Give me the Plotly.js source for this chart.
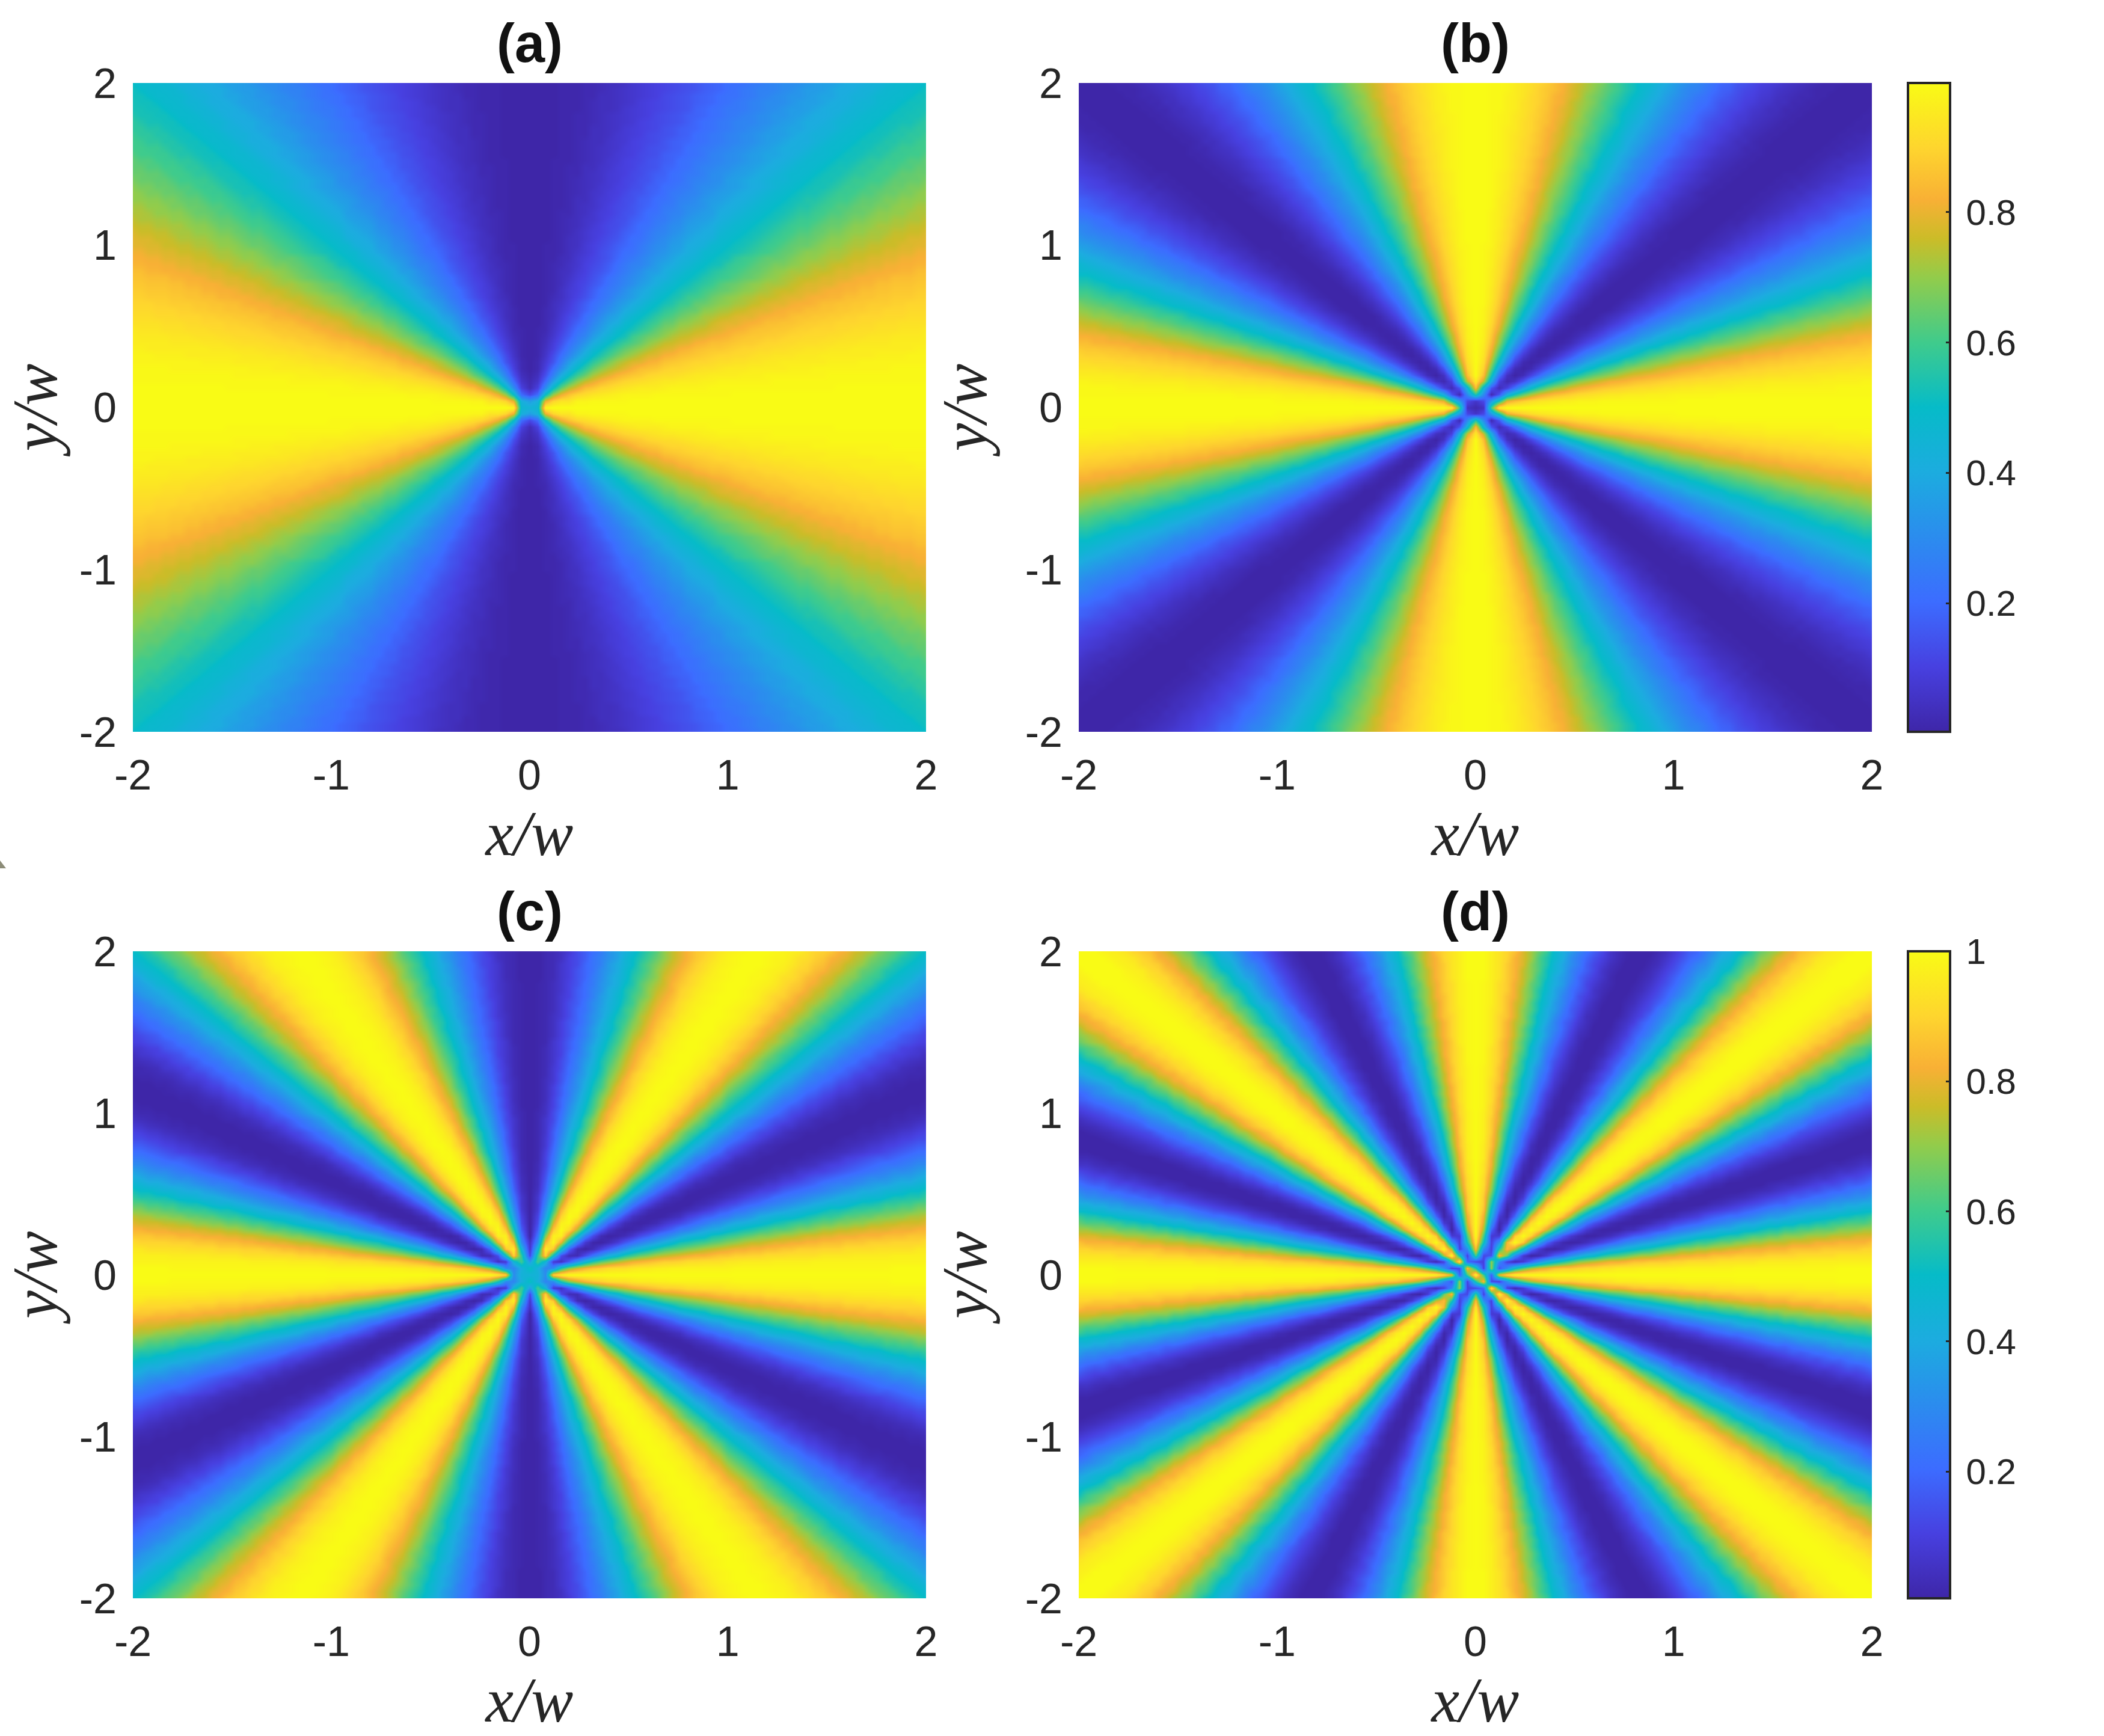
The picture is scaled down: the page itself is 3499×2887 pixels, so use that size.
<!DOCTYPE html>
<html>
<head>
<meta charset="utf-8">
<script src="https://cdn.plot.ly/plotly-3.0.1.min.js"></script>
<style>html,body{margin:0;padding:0;background:#fff}</style>
</head>
<body>
<div id="chart" style="width:3499px;height:2887px"></div>
<script>
// Intensity vs ray angle from 0 to 90 deg.
// A has one value per degree, B, C and D one per half degree because their rays are narrower.
// The other three quadrants look mirrored, so the lookup below folds the angle.
const profileA = [1.00,1.00,1.00,1.00,1.00,.99,.99,.99,.98,.98,.97,.96,.96,.95,.94,.93,.92,.91,.90,.89,.88,.87,.86,.85,.83,.82,.81,.79,.78,.76,.75,.73,.72,.70,.69,.67,.65,.64,.62,.60,.59,.57,.55,.53,.52,.50,.48,.47,.45,.43,.41,.40,.38,.36,.35,.33,.31,.30,.28,.27,.25,.24,.22,.21,.19,.18,.17,.15,.14,.13,.12,.11,.10,.09,.08,.07,.06,.05,.04,.04,.03,.02,.02,.01,.01,.01,.00,.00,.00,.00,.00];
const profileB = [1.00,1.00,1.00,1.00,1.00,.99,.99,.99,.98,.98,.97,.96,.96,.95,.94,.93,.92,.91,.90,.89,.88,.87,.86,.85,.83,.82,.81,.79,.78,.76,.75,.73,.72,.70,.69,.67,.65,.64,.62,.60,.59,.57,.55,.53,.52,.50,.48,.47,.45,.43,.41,.40,.38,.36,.35,.33,.31,.30,.28,.27,.25,.24,.22,.21,.19,.18,.17,.15,.14,.13,.12,.11,.10,.09,.08,.07,.06,.05,.04,.04,.03,.02,.02,.01,.01,.01,.00,.00,.00,.00,.00,
  .00,.00,.00,.00,.01,.01,.01,.02,.02,.03,.04,.04,.05,.06,.07,.08,.09,.10,.11,.12,.13,.14,.15,.17,.18,.19,.21,.22,.24,.25,.27,.28,.30,.31,.33,.35,.36,.38,.40,.41,.43,.45,.47,.48,.50,.52,.53,.55,.57,.59,.60,.62,.64,.65,.67,.69,.70,.72,.73,.75,.76,.78,.79,.81,.82,.83,.85,.86,.87,.88,.89,.90,.91,.92,.93,.94,.95,.96,.96,.97,.98,.98,.99,.99,.99,1.00,1.00,1.00,1.00,1.00];
const profileC = [1.00,1.00,1.00,.99,.99,.98,.98,.97,.96,.95,.93,.92,.90,.89,.87,.85,.83,.81,.79,.77,.75,.73,.70,.68,.65,.63,.60,.58,.55,.53,.50,.47,.45,.42,.40,.37,.35,.32,.30,.27,.25,.23,.21,.19,.17,.15,.13,.11,.10,.08,.07,.05,.04,.03,.02,.02,.01,.01,.00,.00,.00,
  .00,.00,.01,.01,.02,.02,.03,.04,.05,.07,.08,.10,.11,.13,.15,.17,.19,.21,.23,.25,.27,.30,.32,.35,.37,.40,.42,.45,.47,.50,.53,.55,.58,.60,.63,.65,.68,.70,.73,.75,.77,.79,.81,.83,.85,.87,.89,.90,.92,.93,.95,.96,.97,.98,.98,.99,.99,1.00,1.00,1.00,
  1.00,1.00,.99,.99,.98,.98,.97,.96,.95,.93,.92,.90,.89,.87,.85,.83,.81,.79,.77,.75,.73,.70,.68,.65,.63,.60,.58,.55,.53,.50,.47,.45,.42,.40,.37,.35,.32,.30,.27,.25,.23,.21,.19,.17,.15,.13,.11,.10,.08,.07,.05,.04,.03,.02,.02,.01,.01,.00,.00,.00];
const profileD = [1.00,1.00,1.00,.99,.98,.97,.96,.94,.92,.90,.88,.86,.83,.81,.78,.75,.72,.69,.65,.62,.59,.55,.52,.48,.45,.41,.38,.35,.31,.28,.25,.22,.19,.17,.14,.12,.10,.08,.06,.04,.03,.02,.01,.00,.00,.00,.00,.00,.01,.02,.03,.04,.06,.08,.10,.12,.14,.17,.19,.22,.25,.28,.31,.35,.38,.41,.45,.48,.52,.55,.59,.62,.65,.69,.72,.75,.78,.81,.83,.86,.88,.90,.92,.94,.96,.97,.98,.99,1.00,1.00,1.00,
  1.00,1.00,.99,.98,.97,.96,.94,.92,.90,.88,.86,.83,.81,.78,.75,.72,.69,.65,.62,.59,.55,.52,.48,.45,.41,.38,.35,.31,.28,.25,.22,.19,.17,.14,.12,.10,.08,.06,.04,.03,.02,.01,.00,.00,.00,.00,.00,.01,.02,.03,.04,.06,.08,.10,.12,.14,.17,.19,.22,.25,.28,.31,.35,.38,.41,.45,.48,.52,.55,.59,.62,.65,.69,.72,.75,.78,.81,.83,.86,.88,.90,.92,.94,.96,.97,.98,.99,1.00,1.00,1.00];

// Central cells, y = +0.2 (top) to -0.2, x = -0.2 to +0.2, step 0.04
const coreA = [
  [.50,.40,.27,.14,.04,.01,.04,.14,.27,.40,.50],
  [.60,.50,.36,.20,.06,.02,.06,.20,.36,.50,.60],
  [.73,.64,.50,.30,.10,.03,.10,.30,.50,.64,.73],
  [.86,.80,.70,.50,.20,.12,.20,.50,.70,.80,.86],
  [.94,.94,.90,.80,.42,.36,.42,.80,.90,.94,.94],
  [1.00,1.00,1.00,.98,.46,.44,.46,.98,1.00,1.00,1.00],
  [.94,.94,.90,.80,.42,.36,.42,.80,.90,.94,.94],
  [.86,.80,.70,.50,.20,.12,.20,.50,.70,.80,.86],
  [.73,.64,.50,.30,.10,.03,.10,.30,.50,.64,.73],
  [.60,.50,.36,.20,.06,.02,.06,.20,.36,.50,.60],
  [.50,.40,.27,.14,.04,.01,.04,.14,.27,.40,.50]
];
const coreB = [
  [.00,.05,.22,.53,.85,1.00,.85,.53,.22,.05,.00],
  [.05,.02,.10,.40,.75,.95,.75,.40,.10,.02,.05],
  [.22,.10,.03,.15,.45,.85,.45,.15,.03,.10,.22],
  [.53,.40,.15,.02,.30,.55,.30,.02,.15,.40,.53],
  [.85,.80,.55,.35,.12,.06,.12,.35,.55,.80,.85],
  [1.00,1.00,.96,.60,.05,.02,.05,.60,.96,1.00,1.00],
  [.85,.80,.55,.35,.12,.06,.12,.35,.55,.80,.85],
  [.53,.40,.15,.02,.30,.55,.30,.02,.15,.40,.53],
  [.22,.10,.03,.15,.45,.85,.45,.15,.03,.10,.22],
  [.05,.02,.10,.40,.75,.95,.75,.40,.10,.02,.05],
  [.00,.05,.22,.53,.85,1.00,.85,.53,.22,.05,.00]
];
const coreC = [
  [.50,.80,.99,.83,.30,.05,.30,.83,.99,.80,.50],
  [.19,.50,.87,.97,.45,.07,.45,.97,.87,.50,.19],
  [.03,.13,.50,.90,.58,.12,.58,.90,.50,.13,.03],
  [.17,.05,.08,.45,.60,.35,.60,.45,.08,.05,.17],
  [.69,.55,.30,.28,.42,.52,.42,.28,.30,.55,.69],
  [1.00,.96,.90,.30,.44,.44,.44,.30,.90,.96,1.00],
  [.69,.55,.30,.28,.42,.52,.42,.28,.30,.55,.69],
  [.17,.05,.08,.45,.60,.35,.60,.45,.08,.05,.17],
  [.03,.13,.50,.90,.58,.12,.58,.90,.50,.13,.03],
  [.19,.50,.87,.97,.45,.07,.45,.97,.87,.50,.19],
  [.50,.80,.99,.83,.30,.05,.30,.83,.99,.80,.50]
];
const coreD = [
  [1.00,.83,.31,.10,.52,.95,.52,.10,.31,.83,1.00],
  [.82,1.00,.72,.10,.31,.85,.31,.10,.55,.85,.75],
  [.31,.72,1.00,.52,.10,.60,.12,.15,.85,.65,.30],
  [.02,.10,.52,.98,.20,.12,.10,.70,.30,.10,.03],
  [.50,.31,.10,.12,.85,.55,.10,.70,.15,.30,.50],
  [.98,.92,.80,.18,.60,1.00,.60,.18,.80,.92,.98],
  [.50,.30,.15,.70,.10,.55,.85,.12,.10,.31,.50],
  [.03,.10,.30,.70,.10,.12,.20,.98,.52,.10,.02],
  [.30,.65,.85,.15,.12,.60,.10,.52,1.00,.72,.31],
  [.75,.85,.55,.10,.31,.85,.31,.10,.72,1.00,.82],
  [1.00,.83,.31,.10,.52,.95,.52,.10,.31,.83,1.00]
];

const panelTitles = ["(a)", "(b)", "(c)", "(d)"];
const tickValues = [-2, -1, 0, 1, 2];
const barTicksB = [0.2, 0.4, 0.6, 0.8];
const barTicksD = [0.2, 0.4, 0.6, 0.8, 1];

// colours
const colorStops = [
  [0.00, "#3e26a8"], [0.10, "#4740e0"], [0.20, "#3c6cff"], [0.30, "#2b8cee"],
  [0.40, "#1cacdf"], [0.50, "#06bbc8"], [0.60, "#3fcb8c"], [0.70, "#92cc4b"],
  [0.76, "#cbbc28"], [0.82, "#f8b035"], [0.90, "#fed52e"], [1.00, "#f9fb15"]
];

// Grid of the original figure: cells of 0.04 from -2 to 2
const gridX = [];
for (let i = 0; i <= 100; i++) gridX.push(Math.round((-2 + 0.04 * i) * 100) / 100);

// Build z by looking up the read values, nearest entry of the table
function buildField(profile, core) {
  const z = [];
  const perDeg = (profile.length - 1) / 90;
  gridX.forEach((y, j) => {
    const row = [];
    gridX.forEach((x, i) => {
      if (Math.abs(i - 50) <= 5 && Math.abs(j - 50) <= 5) {
        row.push(core[55 - j][i - 45]);
      } else {
        const deg = Math.atan2(Math.abs(y), Math.abs(x)) * 180 / Math.PI;
        row.push(profile[Math.round(deg * perDeg)]);
      }
    });
    z.push(row);
  });
  return z;
}

const W = 3499, H = 2887;
const textColor = "#262626";

// Pixel boxes of the four panels in the reference
const boxes = [
  { l: 221, r: 1540, t: 138, b: 1217 },
  { l: 1794, r: 3113, t: 138, b: 1217 },
  { l: 221, r: 1540, t: 1582, b: 2658 },
  { l: 1794, r: 3113, t: 1582, b: 2658 }
];

function colorbarFor(box, ticks) {
  return {
    x: 3173 / W, xanchor: "left", xpad: 0,
    y: 1 - box.b / H, yanchor: "bottom", ypad: 0,
    thickness: 70, thicknessmode: "pixels",
    len: box.b - box.t, lenmode: "pixels",
    outlinecolor: "#262626", outlinewidth: 4,
    ticks: "inside", ticklen: 9, tickwidth: 3, tickcolor: "#262626",
    tickmode: "array", tickvals: ticks, ticktext: ticks.map(t => "\u2009" + t),
    tickfont: { family: "Liberation Sans", size: 60, color: textColor }
  };
}

const fields = [[profileA, coreA, 0.003, 0.998], [profileB, coreB, 0.003, 0.998],
                [profileC, coreC, 0.005, 1], [profileD, coreD, 0.005, 1]];

const traces = fields.map((f, k) => ({
  type: "heatmap",
  x: gridX, y: gridX, z: buildField(f[0], f[1]),
  zmin: f[2], zmax: f[3],
  zsmooth: "best",
  colorscale: colorStops,
  showscale: k === 1 || k === 3,
  colorbar: k === 1 ? colorbarFor(boxes[1], barTicksB) : (k === 3 ? colorbarFor(boxes[3], barTicksD) : undefined),
  xaxis: k === 0 ? "x" : "x" + (k + 1),
  yaxis: k === 0 ? "y" : "y" + (k + 1)
}));

const layout = {
  width: W, height: H,
  margin: { l: 0, r: 0, t: 0, b: 0 },
  paper_bgcolor: "#fff", plot_bgcolor: "#fff",
  annotations: [], showlegend: false,
  // small stray mark at the left edge of the original
  shapes: [{
    type: "path", xref: "paper", yref: "paper",
    path: "M 0 " + (1 - 1444 / H) + " L 0 " + (1 - 1431 / H) + " L " + (10 / W) + " " + (1 - 1444 / H) + " Z",
    fillcolor: "#8c8c78", line: { width: 0 }
  }]
};

boxes.forEach((box, k) => {
  const sfx = k === 0 ? "" : String(k + 1);
  const common = {
    range: [-2, 2], tickmode: "array", tickvals: tickValues,
    ticktext: tickValues.map(String),
    showgrid: false, zeroline: false, showline: false,
    ticks: "outside", ticklen: 1, tickcolor: "rgba(0,0,0,0)",
    tickfont: { family: "Liberation Sans", size: 70, color: textColor }
  };
  layout["xaxis" + sfx] = Object.assign({}, common, {
    domain: [box.l / W, box.r / W],
    anchor: "y" + sfx,
    ticklabelstandoff: 10,
    title: { text: "<i>x/w</i>", standoff: 16, font: { family: "Liberation Serif", size: 105, color: textColor } }
  });
  layout["yaxis" + sfx] = Object.assign({}, common, {
    domain: [1 - box.b / H, 1 - box.t / H],
    anchor: "x" + sfx,
    ticklabelstandoff: 11,
    title: { text: "<i>y/w</i>", standoff: 29, font: { family: "Liberation Serif", size: 105, color: textColor } }
  });
  layout.annotations.push({
    text: "<b>" + panelTitles[k] + "</b>",
    xref: "paper", yref: "paper",
    x: (box.l + box.r) / 2 / W,
    y: 1 - (box.t - 66) / H,
    xanchor: "center", yanchor: "middle", showarrow: false,
    font: { family: "Liberation Sans", size: 90, color: "#111" }
  });
});

Plotly.newPlot("chart", traces, layout, { displayModeBar: false, responsive: false });
</script>
</body>
</html>
